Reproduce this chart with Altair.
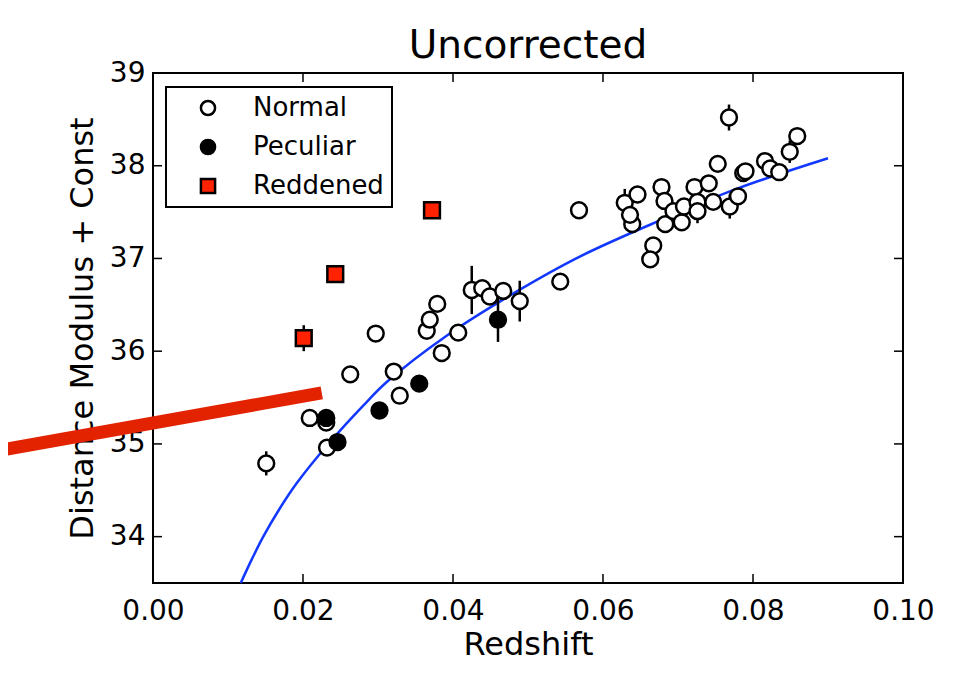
import altair as alt
import pandas as pd

# ---- data ----
normal_z = [0.0151, 0.0209, 0.0231, 0.0232, 0.0263, 0.0297, 0.0321, 0.0329, 0.0365, 0.0369,
            0.0379, 0.0385, 0.0407, 0.0425, 0.0439, 0.0449, 0.0467, 0.0489, 0.0543, 0.0568,
            0.0639, 0.0629, 0.0636, 0.0646, 0.0667, 0.0663, 0.0678, 0.0682, 0.0683, 0.0694,
            0.0705, 0.0708, 0.0722, 0.0726, 0.0726, 0.0741, 0.0747, 0.0753, 0.0768, 0.0769,
            0.0780, 0.0787, 0.0790, 0.0816, 0.0823, 0.0835, 0.0849, 0.0859]
normal_mu = [34.79, 35.28, 35.23, 34.96, 35.75, 36.19, 35.78, 35.52, 36.22, 36.34,
             36.51, 35.98, 36.20, 36.66, 36.68, 36.59, 36.65, 36.54, 36.75, 37.52,
             37.37, 37.60, 37.47, 37.69, 37.14, 36.99, 37.77, 37.62, 37.37, 37.51,
             37.39, 37.56, 37.77, 37.61, 37.51, 37.81, 37.61, 38.02, 38.52, 37.56,
             37.67, 37.92, 37.94, 38.05, 37.97, 37.93, 38.15, 38.32]
normal_err = [0.13, 0.09, 0.05, 0.07, 0.05, 0.05, 0.05, 0.05, 0.05, 0.06,
              0.05, 0.05, 0.05, 0.26, 0.05, 0.05, 0.05, 0.22, 0.05, 0.05,
              0.05, 0.15, 0.05, 0.05, 0.05, 0.05, 0.05, 0.05, 0.05, 0.05,
              0.05, 0.05, 0.05, 0.05, 0.13, 0.05, 0.05, 0.05, 0.14, 0.13,
              0.05, 0.05, 0.05, 0.05, 0.05, 0.05, 0.12, 0.05]

peculiar_z = [0.0231, 0.0246, 0.0302, 0.0355, 0.0460]
peculiar_mu = [35.28, 35.02, 35.36, 35.65, 36.34]
peculiar_err = [0.08, 0.05, 0.05, 0.05, 0.24]

reddened_z = [0.0201, 0.0243, 0.0372]
reddened_mu = [36.14, 36.83, 37.52]
reddened_err = [0.14, 0.05, 0.05]

curve_z = [0.0117, 0.0132, 0.0147, 0.0168, 0.0192, 0.0236, 0.0280, 0.0312, 0.0392, 0.0480,
           0.0569, 0.0676, 0.0778, 0.0900]
curve_mu = [33.50, 33.76, 34.00, 34.29, 34.58, 35.02, 35.41, 35.67, 36.17, 36.62,
            37.02, 37.41, 37.75, 38.08]

annot_z = [-0.0204, 0.0225]
annot_mu = [34.93, 35.55]

groups = ["Normal", "Peculiar", "Reddened"]
x_ticks = [0.0, 0.02, 0.04, 0.06, 0.08, 0.10]
y_ticks = [34, 35, 36, 37, 38, 39]
x_inner = [0.02, 0.04, 0.06, 0.08]
y_inner = [34, 35, 36, 37, 38]

# ---- tables ----
rows = []
for g, zs, ms, es in [("Normal", normal_z, normal_mu, normal_err),
                      ("Peculiar", peculiar_z, peculiar_mu, peculiar_err),
                      ("Reddened", reddened_z, reddened_mu, reddened_err)]:
    for z, m, e in zip(zs, ms, es):
        rows.append({"z": z, "mu": m, "lo": m - e, "hi": m + e, "group": g})
pts = pd.DataFrame(rows)
curve = pd.DataFrame({"z": curve_z, "mu": curve_mu})
annot = pd.DataFrame({"z": annot_z, "mu": annot_mu})
xt = pd.DataFrame({"v": x_inner})
yt = pd.DataFrame({"v": y_inner})

W, H = 750, 510
FONT = "DejaVu Sans"
xs = alt.Scale(domain=[0, 0.1], nice=False, zero=False)
ys = alt.Scale(domain=[33.5, 39], nice=False, zero=False)

xenc = alt.X("z:Q", scale=xs, title="Redshift",
             axis=alt.Axis(values=x_ticks, format=".2f", ticks=False, domain=False, grid=False,
                           labelFlush=False, labelFontSize=28, titleFontSize=32,
                           labelPadding=14, titlePadding=4,
                           labelFont=FONT, titleFont=FONT, titleFontWeight="normal",
                           labelColor="black", titleColor="black"))
yenc = alt.Y("mu:Q", scale=ys, title="Distance Modulus + Const",
             axis=alt.Axis(values=y_ticks, format="d", ticks=False, domain=False, grid=False,
                           labelFlush=False, labelFontSize=28, titleFontSize=32,
                           labelPadding=8, titlePadding=10,
                           labelFont=FONT, titleFont=FONT, titleFontWeight="normal",
                           labelColor="black", titleColor="black"))

errbars = alt.Chart(pts).mark_rule(color="black", strokeWidth=2.5).encode(
    x=alt.X("z:Q", scale=xs), y=alt.Y("lo:Q", scale=ys), y2="hi:Q")

line = alt.Chart(curve).mark_line(color="#1238ff", strokeWidth=2.5, interpolate="catmull-rom").encode(
    x=xenc, y=yenc)

leg = alt.Legend(title=None, orient="none", legendX=13, legendY=14)
points = alt.Chart(pts).mark_point(filled=True, strokeWidth=2.5, size=250, opacity=1).encode(
    x=alt.X("z:Q", scale=xs), y=alt.Y("mu:Q", scale=ys),
    fill=alt.Fill("group:N", scale=alt.Scale(domain=groups, range=["white", "black", "#ff2200"]), legend=leg),
    shape=alt.Shape("group:N", scale=alt.Scale(domain=groups, range=["circle", "circle", "square"]), legend=leg),
    stroke=alt.Stroke("group:N", scale=alt.Scale(domain=groups, range=["black", "black", "black"]), legend=leg),
)

annot_line = alt.Chart(annot).mark_line(color="#e32200", strokeWidth=13, strokeCap="butt", clip=False).encode(
    x=alt.X("z:Q", scale=xs), y=alt.Y("mu:Q", scale=ys))

tick_bottom = alt.Chart(xt).mark_rule(color="black", strokeWidth=1.5).encode(
    x=alt.X("v:Q", scale=xs), y=alt.value(H), y2=alt.value(H - 9))
tick_top = alt.Chart(xt).mark_rule(color="black", strokeWidth=1.5).encode(
    x=alt.X("v:Q", scale=xs), y=alt.value(0), y2=alt.value(9))
tick_left = alt.Chart(yt).mark_rule(color="black", strokeWidth=1.5).encode(
    y=alt.Y("v:Q", scale=ys), x=alt.value(0), x2=alt.value(9))
tick_right = alt.Chart(yt).mark_rule(color="black", strokeWidth=1.5).encode(
    y=alt.Y("v:Q", scale=ys), x=alt.value(W), x2=alt.value(W - 9))

chart = alt.layer(
    line, tick_bottom, tick_top, tick_left, tick_right, errbars, points, annot_line
).properties(
    width=W, height=H,
    background="white",
    title=alt.TitleParams("Uncorrected", fontSize=39, font=FONT, fontWeight="normal",
                          color="black", offset=-7, anchor="middle", frame="group"),
    autosize=alt.AutoSizeParams(type="none"),
    padding={"left": 145, "top": 65, "right": 40, "bottom": 80},
).configure_view(
    stroke="black", strokeWidth=2
).configure_legend(
    strokeColor="black", strokeWidth=2, fillColor="white", padding=8,
    labelFontSize=26, labelFont=FONT, labelColor="black",
    symbolSize=200, symbolStrokeWidth=2.5,
    symbolOffset=21, labelOffset=32, rowPadding=13, cornerRadius=0
)

chart.save("out.html", embed_options={"renderer": "svg", "actions": False})
